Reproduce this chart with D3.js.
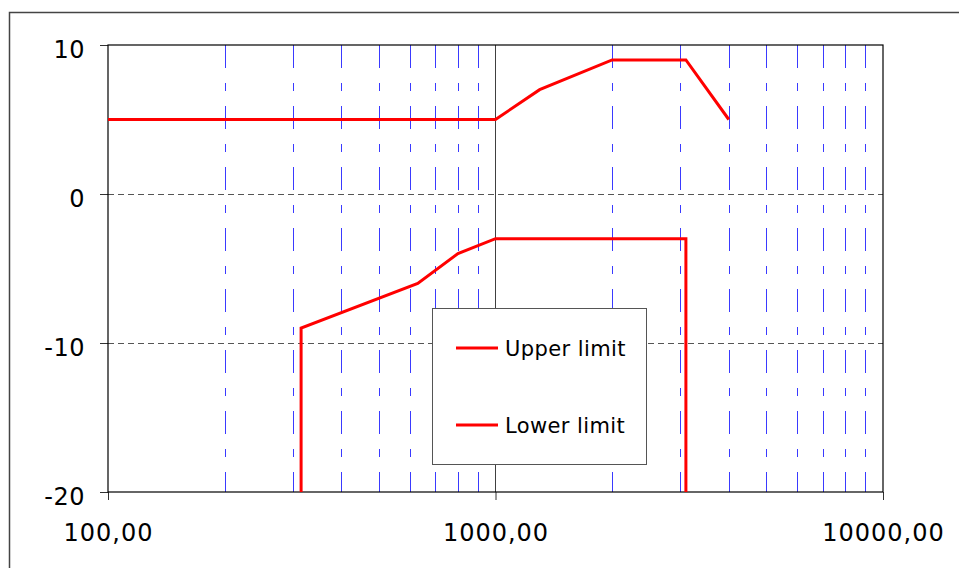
<!DOCTYPE html>
<html><head><meta charset="utf-8">
<script src="https://cdn.jsdelivr.net/npm/d3@7"></script>
<style>
html,body{margin:0;padding:0;background:#fff;}
svg{display:block;}
text{font-family:"DejaVu Sans",Verdana,sans-serif;}
</style></head>
<body>
<svg id="c" width="959" height="568"></svg>
<script>
// Data
const seriesNames = ["Upper limit", "Lower limit"];
const upperFreq = [100, 1000, 1300, 2000, 3100, 4000];
const upperVal  = [5, 5, 7, 9, 9, 5];
const lowerFreq = [315, 315, 630, 800, 1000, 3100, 3100];
const lowerVal  = [-20, -9, -6, -4, -3, -3, -20];
const xTickValues = [100, 1000, 10000];
const yTickValues = [10, 0, -10, -20];
const xMinorGrid = [200,300,400,500,600,700,800,900,2000,3000,4000,5000,6000,7000,8000,9000];
const yMinorGrid = [0, -10];

const svg = d3.select("#c");
const L = 108, R = 883, T = 45, B = 492;
const x = d3.scaleLog().domain([100, 10000]).range([L, R]);
const y = d3.scaleLinear().domain([-20, 10]).range([B, T]);

// outer frame
svg.append("rect").attr("x", 9.5).attr("y", 12.5).attr("width", 980).attr("height", 600)
  .attr("fill", "none").attr("stroke", "#444").attr("stroke-width", 1.5);

// minor vertical grid (blue dash-dot)
svg.append("g").selectAll("line").data(xMinorGrid).join("line")
  .attr("x1", d => Math.round(x(d)) + 0.5).attr("x2", d => Math.round(x(d)) + 0.5)
  .attr("y1", T).attr("y2", B)
  .attr("stroke", "#3a3aff").attr("stroke-width", 1)
  .attr("stroke-dasharray", "23,15,8,15");

// 1000 major line
svg.append("line").attr("x1", Math.round(x(1000)) + 0.5).attr("x2", Math.round(x(1000)) + 0.5)
  .attr("y1", T).attr("y2", B).attr("stroke", "#404040").attr("stroke-width", 1);

// horizontal dashed grid
svg.append("g").selectAll("line").data(yMinorGrid).join("line")
  .attr("x1", L).attr("x2", R)
  .attr("y1", d => Math.round(y(d)) + 0.5).attr("y2", d => Math.round(y(d)) + 0.5)
  .attr("stroke", "#555").attr("stroke-width", 1).attr("stroke-dasharray", "6,4");

// axes
const fmtX = d => d3.format(".2f")(d).replace(".", ",");
const fmtY = d => String(d);
const gy = svg.append("g").attr("transform", `translate(${L},0)`)
  .call(d3.axisLeft(y).tickValues(yTickValues).tickFormat(fmtY).tickSize(8).tickPadding(15));
gy.select(".domain").remove();
gy.selectAll("text").attr("dy", "0.5em").style("font-size", "24px").style("letter-spacing", "0.5px").attr("fill", "#000");
gy.selectAll("line").attr("stroke", "#333");

const gx = svg.append("g").attr("transform", `translate(0,${B})`)
  .call(d3.axisBottom(x).tickValues(xTickValues).tickFormat(fmtX).tickSize(8).tickPadding(24));
gx.select(".domain").remove();
gx.selectAll("text").style("font-size", "24px").style("letter-spacing", "1px").attr("fill", "#000");
gx.selectAll("line").attr("stroke", "#333");

// plot frame
svg.append("rect").attr("x", L).attr("y", T).attr("width", R - L).attr("height", B - T)
  .attr("fill", "none").attr("stroke", "#000").attr("stroke-width", 1.2);

// lines
const line = d3.line().x(d => x(d[0])).y(d => y(d[1]));
const upper = upperFreq.map((f, i) => [f, upperVal[i]]);
const lower = lowerFreq.map((f, i) => [f, lowerVal[i]]);
svg.append("g").selectAll("path").data([upper, lower]).join("path")
  .attr("d", line).attr("fill", "none").attr("stroke", "#ff0000")
  .attr("stroke-width", 3).attr("stroke-linejoin", "miter");

// legend
const lg = svg.append("g");
lg.append("rect").attr("x", 432.5).attr("y", 308.5).attr("width", 214).attr("height", 156)
  .attr("fill", "#fff").attr("stroke", "#555").attr("stroke-width", 1);
const legY = [348, 425];
seriesNames.forEach((n, i) => {
  lg.append("line").attr("x1", 456).attr("x2", 498).attr("y1", legY[i]).attr("y2", legY[i])
    .attr("stroke", "#ff0000").attr("stroke-width", 3);
  lg.append("text").attr("x", 505).attr("y", legY[i] + 7.5).text(n)
    .style("font-size", "21px").style("letter-spacing", "0.4px").attr("fill", "#000");
});
</script>
</body></html>
